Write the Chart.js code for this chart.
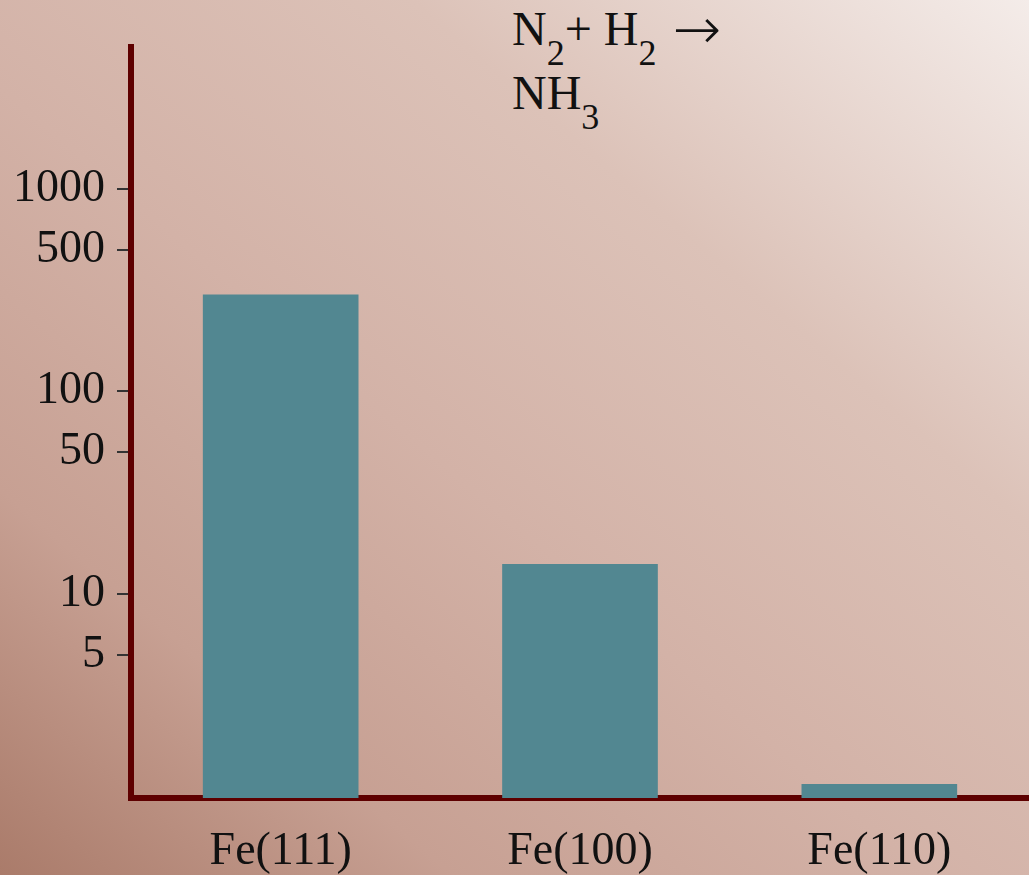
<!DOCTYPE html>
<html>
<head>
<meta charset="utf-8">
<script src="https://cdn.jsdelivr.net/npm/chart.js@4"></script>
<style>
  html, body { margin: 0; padding: 0; }
  body {
    width: 1029px; height: 875px; overflow: hidden; position: relative;
    background: linear-gradient(to bottom left, #f4ece9 0%, #dcc2b8 30%, #d3b2a7 55%, #c7a093 78%, #aa7b6a 100%);
  }
  #wrap { position: absolute; left: 0; top: 0; width: 1029px; height: 875px; }
  #title {
    position: absolute; left: 512px; top: -3px;
    font-family: 'Liberation Serif', serif; font-size: 48px; line-height: 64px; color: #111;
  }
  #title sub { font-size: 0.75em; vertical-align: -0.55em; line-height: 0; }
  #title .arrow {
    font-family: 'DejaVu Sans', sans-serif; font-weight: 200; font-size: 58px;
    line-height: 0; margin-left: 4px; position: relative; top: 4px;
  }
</style>
</head>
<body>
<div id="title">N<sub>2</sub>+ H<sub>2</sub> <span class="arrow">&#x2192;</span><br>NH<sub>3</sub></div>
<div id="wrap"><canvas id="myChart" width="1029" height="875"></canvas></div>
<script>
const categories = ['Fe(111)', 'Fe(100)', 'Fe(110)'];
const rates = [300, 14, 1.15];
const yTicks = [5, 10, 50, 100, 500, 1000];

const axisColor = '#5e0000';
const serif = "'Liberation Serif', 'Times New Roman', serif";

const ctx = document.getElementById('myChart');

new Chart(ctx, {
  type: 'bar',
  data: {
    labels: categories,
    datasets: [{
      label: 'N2 + H2 -> NH3',
      data: rates,
      backgroundColor: '#528791',
      borderWidth: 0,
      categoryPercentage: 1,
      barPercentage: 0.52
    }]
  },
  options: {
    responsive: false,
    animation: false,
    layout: { padding: { left: 17, top: 47, right: 0, bottom: 0 } },
    plugins: {
      legend: { display: false },
      tooltip: { enabled: false }
    },
    scales: {
      x: {
        afterFit: (scale) => { scale.height = 77; },
        grid: { drawOnChartArea: false, drawTicks: false },
        border: { display: true, color: axisColor, width: 6 },
        ticks: { color: '#111', padding: 26, font: { family: serif, size: 46 } }
      },
      y: {
        type: 'logarithmic',
        min: 0.98,
        max: 5000,
        afterFit: (scale) => { scale.width = 114; },
        afterBuildTicks: (scale) => {
          scale.ticks = yTicks.map(v => ({ value: v }));
        },
        grid: { drawOnChartArea: false, drawTicks: true, tickLength: 14, color: '#333', lineWidth: 2 },
        border: { display: true, color: axisColor, width: 6 },
        ticks: {
          color: '#111', padding: 12, font: { family: serif, size: 46 },
          callback: (v) => String(v)
        }
      }
    }
  }
});
</script>
</body>
</html>
